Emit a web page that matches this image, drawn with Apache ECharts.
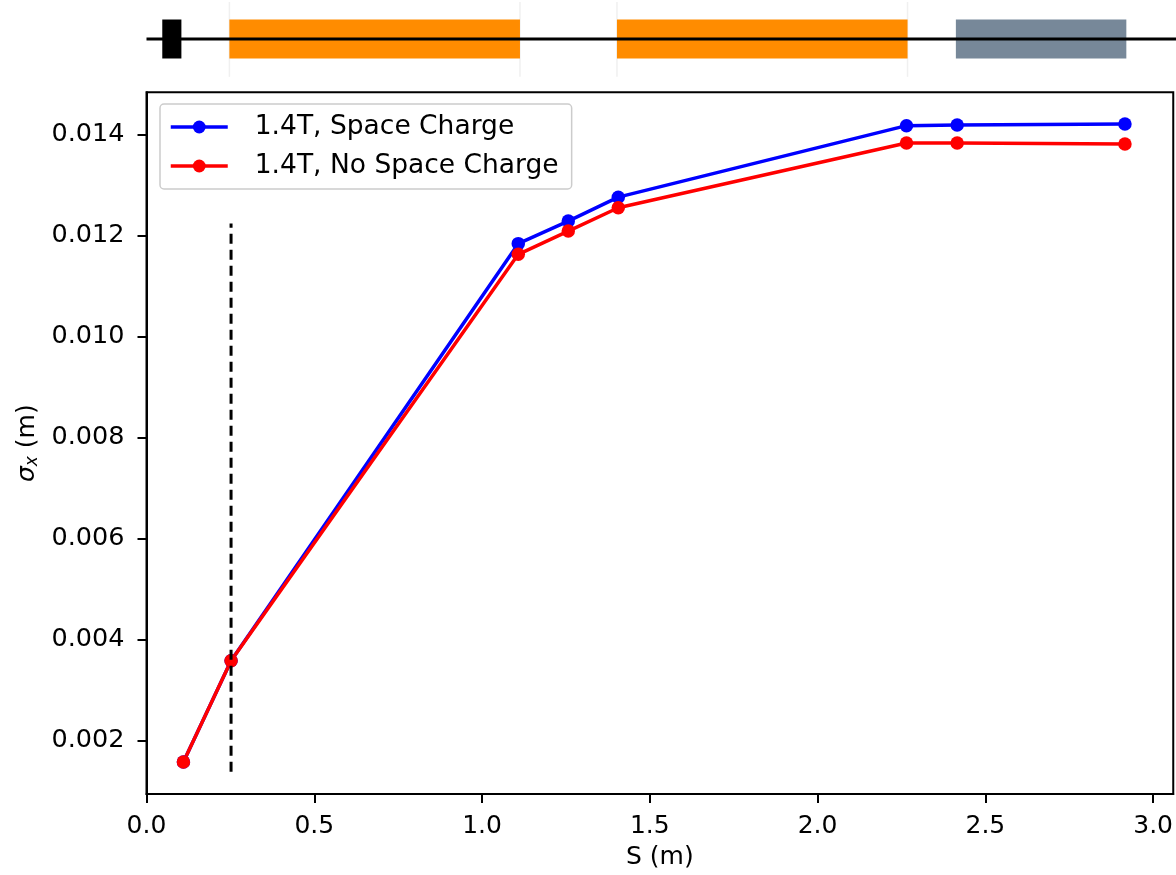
<!DOCTYPE html>
<html>
<head>
<meta charset="utf-8">
<script src="https://cdn.jsdelivr.net/npm/echarts@6/dist/echarts.min.js"></script>
<style>
html, body { margin: 0; background: #fff; }
#chart { width: 1176px; height: 875px; }
</style>
</head>
<body>
<div id="chart"></div>
<script>
// beam positions (m) and rms sizes (m)
const sPos = [0.110, 0.252, 1.108, 1.257, 1.406, 2.265, 2.416, 2.916];
const sigmaSC = [0.001574, 0.00358, 0.011842, 0.012289, 0.012763, 0.014179, 0.014192, 0.014212];
const sigmaNoSC = [0.001574, 0.00358, 0.011631, 0.012091, 0.012553, 0.013837, 0.013837, 0.013817];

// dashed marker
const dashS = [0.252, 0.252];
const dashSigma = [0.00138, 0.01224];

// beamline layout strip
const elemStart = [0.047, 0.247, 1.402, 2.412];
const elemEnd = [0.104, 1.113, 2.268, 2.920];
const elemType = ['gun', 'cavity', 'cavity', 'magnet'];

// ticks
const xTicks = [0, 0.5, 1.0, 1.5, 2.0, 2.5, 3.0];
const yTicks = [0.002, 0.004, 0.006, 0.008, 0.010, 0.012, 0.014];

const elemColor = { gun: '#000000', cavity: '#ff8c00', magnet: '#778899' };
const font = 'DejaVu Sans';

const chart = echarts.init(document.getElementById('chart'));

chart.setOption({
  animation: false,
  textStyle: { fontFamily: font },
  grid: [
    { left: 146.5, right: 0, top: 0, height: 78 },
    { left: 146.5, right: 2.7, top: 92.3, bottom: 79.3, show: true, borderColor: '#000', borderWidth: 2, backgroundColor: 'transparent' }
  ],
  xAxis: [
    { gridIndex: 0, type: 'value', min: 0, max: 3.068, show: false },
    {
      gridIndex: 1, type: 'value', min: 0, max: 3.06,
      name: 'S (m)', nameLocation: 'middle', nameGap: 51,
      nameTextStyle: { fontSize: 25, color: '#000', fontFamily: font },
      axisLine: { lineStyle: { color: '#000', width: 2 } },
      axisTick: { show: true, length: 9, lineStyle: { color: '#000', width: 2 }, customValues: xTicks },
      axisLabel: { fontSize: 25, color: '#000', margin: 20, customValues: xTicks, formatter: v => v.toFixed(1) },
      splitLine: { show: false }
    }
  ],
  yAxis: [
    { gridIndex: 0, type: 'value', min: -1, max: 1, show: false },
    {
      gridIndex: 1, type: 'value', min: 0.00094, max: 0.01484,
      name: '{g|σ}{sub|x}{s| (m)}', nameLocation: 'middle', nameGap: 104, nameRotate: 90,
      nameTextStyle: {
        fontFamily: font, color: '#000',
        rich: {
          g: { fontSize: 25, fontFamily: font, fontStyle: 'italic', color: '#000' },
          s: { fontSize: 25, fontFamily: font, color: '#000' },
          sub: { fontSize: 17, fontFamily: font, fontStyle: 'italic', color: '#000', verticalAlign: 'bottom', padding: [10, 0, 0, 0] }
        }
      },
      axisLine: { show: true, lineStyle: { color: '#000', width: 2 } },
      axisTick: { show: true, length: 9, lineStyle: { color: '#000', width: 2 }, customValues: yTicks },
      axisLabel: { fontSize: 25.5, color: '#000', margin: 22, customValues: yTicks, formatter: v => v.toFixed(3) },
      splitLine: { show: false }
    }
  ],
  legend: {
    data: ['1.4T, Space Charge', '1.4T, No Space Charge'],
    orient: 'vertical',
    left: 160, top: 104,
    padding: [8, 13, 8, 9],
    itemWidth: 57, itemHeight: 16, itemGap: 9,
    borderColor: '#cccccc', borderWidth: 1.5, borderRadius: 4,
    backgroundColor: 'rgba(255,255,255,0.8)',
    lineStyle: { width: 3.5 },
    textStyle: { fontSize: 26.5, color: '#000', fontFamily: font, lineHeight: 30, padding: [0, 0, 0, 22] }
  },
  series: [
    {
      type: 'custom', xAxisIndex: 0, yAxisIndex: 0,
      data: elemStart.map((s, i) => [s, elemEnd[i]]),
      renderItem: function (params, api) {
        const x0 = api.value(0), x1 = api.value(1);
        const a = api.coord([x0, 0.5]);
        const b = api.coord([x1, -0.5]);
        const type = elemType[params.dataIndex];
        const children = [];
        if (type === 'cavity') {
          [x0, x1].forEach(x => {
            const t = api.coord([x, 0.95]);
            const u = api.coord([x, -0.97]);
            children.push({ type: 'line', shape: { x1: t[0], y1: t[1], x2: u[0], y2: u[1] }, style: { stroke: '#f0f0f0', lineWidth: 1.5 } });
          });
        }
        children.push({
          type: 'rect',
          shape: { x: a[0], y: a[1], width: b[0] - a[0], height: b[1] - a[1] },
          style: { fill: elemColor[type] }
        });
        return { type: 'group', children: children };
      },
      z: 2
    },
    {
      type: 'line', xAxisIndex: 0, yAxisIndex: 0,
      data: [[0, 0], [3.068, 0]],
      symbol: 'none',
      lineStyle: { color: '#000', width: 3 },
      z: 3, silent: true
    },
    {
      name: '1.4T, Space Charge', type: 'line', xAxisIndex: 1, yAxisIndex: 1,
      data: sPos.map((s, i) => [s, sigmaSC[i]]),
      color: '#0000ff',
      symbol: 'circle', symbolSize: 13.5,
      lineStyle: { color: '#0000ff', width: 3.5 },
      itemStyle: { color: '#0000ff' }
    },
    {
      name: '1.4T, No Space Charge', type: 'line', xAxisIndex: 1, yAxisIndex: 1,
      data: sPos.map((s, i) => [s, sigmaNoSC[i]]),
      color: '#ff0000',
      symbol: 'circle', symbolSize: 13.5,
      lineStyle: { color: '#ff0000', width: 3.5 },
      itemStyle: { color: '#ff0000' }
    },
    {
      type: 'line', xAxisIndex: 1, yAxisIndex: 1,
      data: dashS.map((s, i) => [s, dashSigma[i]]),
      symbol: 'none',
      lineStyle: { color: '#000', width: 3, type: [10, 6] },
      z: 4, silent: true
    }
  ]
});
</script>
</body>
</html>
